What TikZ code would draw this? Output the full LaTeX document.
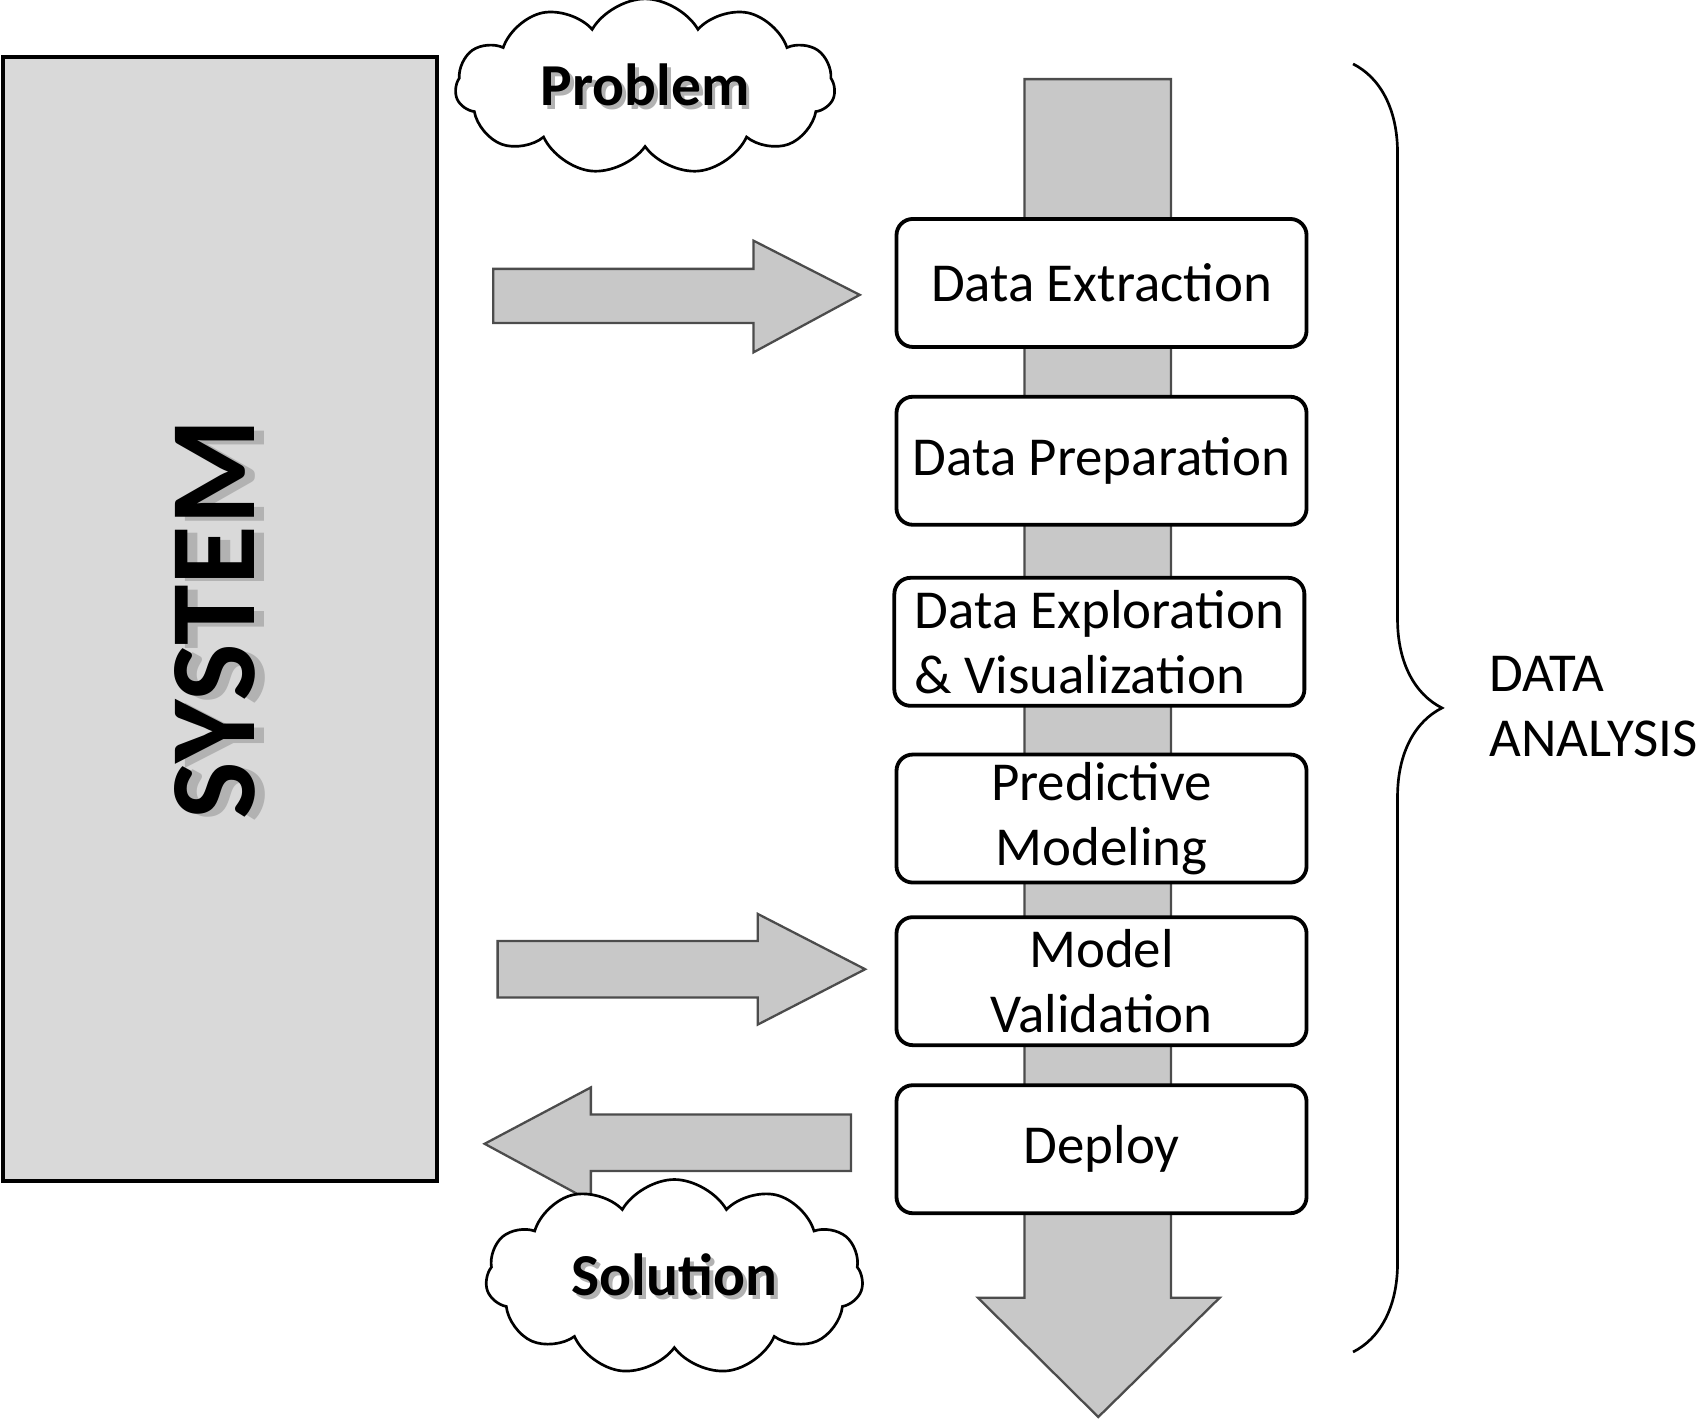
\documentclass[tikz,border=0pt]{standalone}
\usepackage{fontspec}
\setmainfont{Carlito}
\usepackage{tikz}
\usetikzlibrary{shapes.symbols,decorations.pathreplacing}

\definecolor{sysgray}{HTML}{D9D9D9}
\definecolor{flowgray}{HTML}{C8C8C8}
% text with a soft grey shadow behind it
\newcommand{\shadowtxt}[3]{\makebox[0pt][l]{\hspace{#2}\raisebox{#3}{\textcolor{black!30}{#1}}}#1}

\begin{document}
\begin{tikzpicture}[x=0.01cm,y=-0.01cm]
	\tikzstyle{stage}=[draw=black,line width=1pt,fill=white,rounded corners=0.15cm,minimum width=3.78cm,minimum height=1.18cm,align=center,inner sep=2pt,font=\fontsize{14.4}{17}\selectfont]
	\tikzstyle{puff}=[cloud,cloud puffs=11,cloud puff arc=120,cloud ignores aspect,draw=black,line width=0.7pt,fill=white,inner sep=0pt,font=\fontsize{15.6}{19}\selectfont\bfseries]
	\tikzstyle{flow}=[draw=black!70,line width=0.6pt,fill=flowgray]
	\useasboundingbox (0,0) rectangle (1568,1310);

	% the system
	\node[draw=black,line width=0.9pt,fill=sysgray,rotate=90,minimum width=10.36cm,minimum height=4cm,font=\fontsize{32}{36}\selectfont\bfseries] (sys) at (203,571) {\shadowtxt{SYSTEM}{-1pt}{-2.5pt}};

	% main downward flow
	\draw[flow] (945,73) -- (1080,73) -- (1080,1197) -- (1125,1197) -- (1013,1307) -- (902,1197) -- (945,1197) -- cycle;

	% stages
	\node[stage] (ext) at (1016,261) {Data Extraction};
	\node[stage] (prep) at (1016,425) {Data Preparation};
	\node[stage,align=left] (expl) at (1014,592) {Data Exploration\\\& Visualization};
	\node[stage] (pred) at (1016,755) {Predictive\\Modeling};
	\node[stage] (valid) at (1016,905) {Model\\Validation};
	\node[stage] (depl) at (1016,1060) {Deploy};

	% block arrows
	\draw[flow] (455,248) -- (695,248) -- (695,222) -- (793,272) -- (695,325) -- (695,298) -- (455,298) -- cycle;
	\draw[flow] (459,868) -- (699,868) -- (699,843) -- (798,894) -- (699,945) -- (699,920) -- (459,920) -- cycle;
	\draw[flow] (785,1028) -- (545,1028) -- (545,1003) -- (447,1055) -- (545,1108) -- (545,1080) -- (785,1080) -- cycle;

	% clouds
	\node[puff,minimum width=3.5cm,minimum height=1.62cm] (prob) at (595,80) {\shadowtxt{Problem}{1pt}{-1pt}};
	\node[puff,minimum width=3.48cm,minimum height=1.8cm] (sol) at (622,1178) {\shadowtxt{Solution}{1pt}{-1pt}};

	% brace
	\coordinate (btop) at (1248,59);
	\coordinate (bbot) at (1248,1247);
	\draw[line width=0.7pt,decorate,decoration={brace,amplitude=0.82cm}] (btop) -- (bbot);
	\node[anchor=west,align=left,inner sep=0pt,font=\fontsize{14.4}{17}\selectfont] (ana) at (1373,652) {DATA\\ANALYSIS};
\end{tikzpicture}
\end{document}
